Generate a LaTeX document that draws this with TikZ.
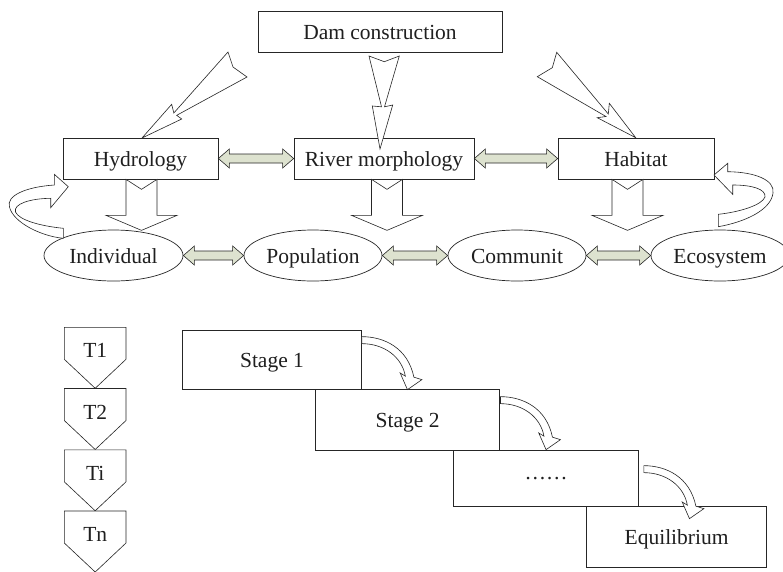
\documentclass[tikz,border=0pt]{standalone}
\usepackage{fontspec}
\setmainfont{Liberation Serif}
\usetikzlibrary{shapes.geometric,calc}
\definecolor{arrowgreen}{HTML}{DDE2CF}
\newcommand{\dblarr}[2]{%
 \draw[dbl] let \p1=(#1), \p2=(#2) in
  (\x1,\y1) -- (\x1+11pt,\y1+9.5pt) -- (\x1+11pt,\y1+4.5pt) -- (\x2-11pt,\y1+4.5pt) -- (\x2-11pt,\y1+9.5pt) -- (\x2,\y1)
  -- (\x2-11pt,\y1-9.5pt) -- (\x2-11pt,\y1-4.5pt) -- (\x1+11pt,\y1-4.5pt) -- (\x1+11pt,\y1-9.5pt) -- cycle;}
\newcommand{\downarr}[1]{%
 \draw[blk] let \p1=(#1) in (\x1-15.5pt,\y1) -- (\x1,\y1-10pt) -- (\x1+15.5pt,\y1) -- (\x1+15.5pt,\y1-36pt)
  -- (\x1+35.5pt,\y1-36pt) -- (\x1,\y1-51pt) -- (\x1-35.5pt,\y1-36pt) -- (\x1-15.5pt,\y1-36pt) -- cycle;}
\newcommand{\stagearr}[1]{%
 \begin{scope}[shift={(#1)}]
  \draw[blk] (0,7) .. controls (22,7) and (46,18) .. (52,47.5) -- (60,50) -- (45.6,60) -- (38.3,43.3) -- (43.5,46.5)
   .. controls (40,27) and (22,14) .. (0,14) -- cycle;
 \end{scope}}
\newcommand{\tpent}[3]{%
 \draw[blk] (64.3,#2) -- (126,#2) -- (126,#2+32) -- (95.2,#2+61) -- (64.3,#2+32) -- cycle;
 \node[lbl] (#1) at (95.2,#2+23) {#3};}
\begin{document}
\begin{tikzpicture}[x=1pt,y=-1pt,
  lbl/.style={font=\fontsize{21.5}{24}\selectfont, text=black!88, inner sep=0pt, text height=15, text depth=0},
  box/.style={lbl, draw=black!85, line width=0.7pt, fill=white, minimum height=41},
  ell/.style={lbl, ellipse, draw=black!85, line width=0.7pt, fill=white, minimum width=138, minimum height=51},
  blk/.style={draw=black!85, line width=0.6pt, fill=white, line join=miter},
  dbl/.style={draw=black!85, line width=0.6pt, fill=arrowgreen, line join=miter},
]
\useasboundingbox (0,0) rectangle (783,571);
\fill[white] (0,0) rectangle (783,571);

% top boxes
\node[box, minimum width=244] (dam) at (380,31.5) {Dam construction};
\node[box, minimum width=155] (hyd) at (140.5,158.5) {Hydrology};
\node[box, minimum width=180] (riv) at (384,158.5) {River morphology};
\node[box, minimum width=156] (hab) at (636,158.5) {Habitat};

% down block arrows
\downarr{$(hyd.south)+(1,0)$}
\downarr{$(riv.south)+(3,0)$}
\downarr{$(hab.south)+(-8.5,0)$}

% ellipses
\node[ell, minimum width=139] (ind) at (113.5,255.5) {Individual};
\node[ell] (pop) at (313,255.5) {Population};
\node[ell] (com) at (517,255.5) {Communit};
\node[ell] (eco) at (720,255.5) {Ecosystem};

% double arrows
\dblarr{hyd.east}{riv.west}
\dblarr{riv.east}{hab.west}
\dblarr{ind.east}{pop.west}
\dblarr{pop.east}{com.west}
\dblarr{com.east}{eco.west}

% arrows from dam construction
\draw[blk] (142,138) -- (171.7,104.3) -- (173.8,113) -- (228,52) -- (233,67) -- (247,77) -- (176.7,115.3) -- (181.7,119) -- cycle;
\draw[blk] (380,149) -- (372.3,106) -- (381.5,106.8) -- (369,56) -- (384.3,61.7) -- (399.3,56) -- (384.5,106.8) -- (392.7,105) -- cycle;
\draw[blk] (635.7,137.7) -- (609.3,103.3) -- (608.3,114) -- (556.7,52.3) -- (552.3,67.7) -- (537.3,76.7) -- (606,116.5) -- (597.3,117.7) -- cycle;

% curved feedback arrows
\draw[blk] (68.3,186.7) -- (54.3,174.3) -- (54.3,185) .. controls (25,187) and (6,196) .. (9.5,207)
  .. controls (13,222) and (40,236) .. (63.3,238.3) -- (63.3,228.3) .. controls (40,226) and (19,220) .. (15.5,212)
  .. controls (13,204) and (30,198.5) .. (50.7,198.3) -- (50.7,207.7) -- cycle;
\draw[blk] (714,175) -- (727.7,163.3) -- (727.7,171.7) .. controls (755,172) and (775,180) .. (773,193)
  .. controls (771,210) and (745,222) .. (718.3,226.7) -- (718.3,214.3) .. controls (740,212) and (762,205) .. (765,197)
  .. controls (766,189) and (752,185) .. (732.7,185) -- (732.7,194.3) -- cycle;

% time pentagons
\tpent{t1}{327.3}{T1}
\tpent{t2}{388.5}{T2}
\tpent{ti}{449.8}{Ti}
\tpent{tn}{511}{Tn}

% stages
\node[box, minimum width=179, minimum height=59] (s1) at (272,359.5) {Stage 1};
\node[box, minimum width=184, minimum height=61] (s2) at (407.6,419.5) {Stage 2};
\node[box, minimum width=185, minimum height=56, text height=2] (s3) at (546,478) {……};
\node[box, minimum width=180, minimum height=61] (eq) at (676.6,536.5) {Equilibrium};

\stagearr{s1.north east}
\stagearr{$(s2.north east)+(0.5,1)$}
\stagearr{$(s3.north east)+(5,9)$}
\end{tikzpicture}
\end{document}
